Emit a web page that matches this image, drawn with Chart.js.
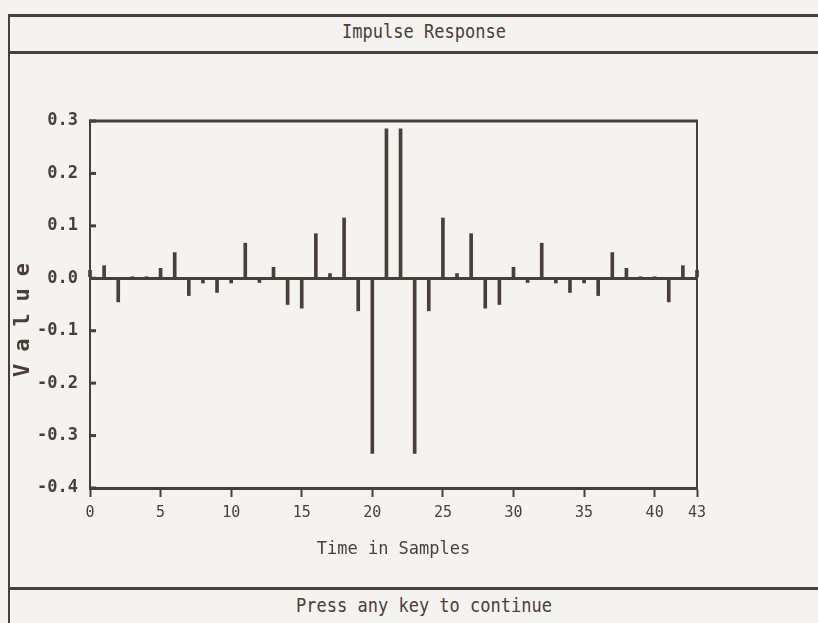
<!DOCTYPE html>
<html>
<head>
<meta charset="utf-8">
<script src="https://cdn.jsdelivr.net/npm/chart.js@4.4.1/dist/chart.umd.min.js"></script>
<style>
  html, body { margin: 0; padding: 0; background: #f4f3ef; }
  body { width: 818px; height: 623px; position: relative; overflow: hidden;
         font-family: "DejaVu Sans Mono", monospace; color: #4a3e39; }
  .hline { position: absolute; left: 9px; width: 820px; height: 3px; background: #4a3e39; }
  .vline { position: absolute; left: 8px; top: 14px; width: 2px; height: 620px; background: #4a3e39; }
  .label { position: absolute; left: 9px; width: 830px; text-align: center; font-size: 20px;
           transform: scaleX(0.85); transform-origin: 415px 0; }
  #chart { position: absolute; left: 0; top: 0; }
</style>
</head>
<body>
<div class="hline" style="top:14px"></div>
<div class="hline" style="top:51px"></div>
<div class="hline" style="top:587px"></div>
<div class="vline"></div>
<div class="label" style="top:19px">Impulse Response</div>
<div class="label" style="top:593px">Press any key to continue</div>
<canvas id="chart" width="818" height="623"></canvas>
<script>
// samples of the impulse response (symmetric FIR taps)
const samples = [0, 1, 2, 3, 4, 5, 6, 7, 8, 9, 10, 11, 12, 13, 14, 15, 16, 17, 18, 19, 20, 21,
                 22, 23, 24, 25, 26, 27, 28, 29, 30, 31, 32, 33, 34, 35, 36, 37, 38, 39, 40, 41, 42, 43];
const values = [0.015, 0.024, -0.045, 0.003, 0.003, 0.019, 0.049, -0.033, -0.009, -0.027, -0.009,
                0.067, -0.008, 0.021, -0.050, -0.057, 0.085, 0.009, 0.115, -0.062, -0.334, 0.285,
                0.285, -0.334, -0.062, 0.115, 0.009, 0.085, -0.057, -0.050, 0.021, -0.008, 0.067,
                -0.009, -0.027, -0.009, -0.033, 0.049, 0.019, 0.003, 0.003, -0.045, 0.024, 0.015];
const xTickValues = [0, 5, 10, 15, 20, 25, 30, 35, 40, 43];
const yTickValues = [-0.4, -0.3, -0.2, -0.1, 0.0, 0.1, 0.2, 0.3];

const ink = '#4a3e39';
const mono = '"DejaVu Sans Mono", monospace';

const framePlugin = {
    id: 'frame',
    afterDraw(chart) {
        const { ctx, chartArea: a, scales } = chart;
        ctx.save();
        ctx.strokeStyle = ink;
        // top and right edges of the plot box
        ctx.lineWidth = 3;
        ctx.beginPath();
        ctx.moveTo(a.left - 1, a.top);
        ctx.lineTo(a.right + 1, a.top);
        ctx.stroke();
        ctx.lineWidth = 2;
        ctx.beginPath();
        ctx.moveTo(a.right, a.top);
        ctx.lineTo(a.right, a.bottom);
        ctx.stroke();
        // y tick marks pointing inside
        ctx.lineWidth = 3;
        scales.y.ticks.forEach(t => {
            const py = scales.y.getPixelForValue(t.value);
            ctx.beginPath();
            ctx.moveTo(a.left - 1, py);
            ctx.lineTo(a.left + 6, py);
            ctx.stroke();
        });
        // rotated axis title
        ctx.fillStyle = ink;
        ctx.font = 'bold 22px ' + mono;
        ctx.letterSpacing = '12px';
        ctx.textAlign = 'center';
        ctx.textBaseline = 'middle';
        ctx.translate(23, 314);
        ctx.rotate(-Math.PI / 2);
        ctx.fillText('Value', 0, 0);
        ctx.restore();
    }
};

new Chart(document.getElementById('chart'), {
    type: 'bar',
    data: {
        datasets: [{
            label: 'Impulse Response',
            data: samples.map((s, i) => ({ x: s, y: values[i] })),
            backgroundColor: ink,
            barThickness: 3,
            clip: false
        }]
    },
    options: {
        responsive: false,
        animation: false,
        layout: { padding: { left: 0, top: 121, right: 121, bottom: 59 } },
        plugins: { legend: { display: false }, tooltip: { enabled: false } },
        scales: {
            x: {
                type: 'linear',
                min: 0,
                max: 43,
                offset: false,
                afterBuildTicks: scale => { scale.ticks = xTickValues.map(v => ({ value: v })); },
                afterFit: scale => { scale.height = 76; },
                grid: { offset: false, drawOnChartArea: false, tickLength: 9, tickWidth: 2, tickColor: ink },
                border: { color: ink, width: 3 },
                ticks: { color: ink, padding: 7, maxRotation: 0, autoSkip: false,
                         font: { family: mono, size: 15 } },
                title: { display: true, text: 'Time in Samples', color: ink,
                         font: { family: mono, size: 17 } }
            },
            y: {
                min: -0.4,
                max: 0.3,
                afterBuildTicks: scale => { scale.ticks = yTickValues.map(v => ({ value: v })); },
                afterFit: scale => { scale.width = 90; },
                grid: {
                    drawTicks: false,
                    lineWidth: 3,
                    color: c => (c.tick && Math.abs(c.tick.value) < 1e-9) ? ink : 'rgba(0,0,0,0)'
                },
                border: { color: ink, width: 2 },
                ticks: {
                    color: ink, padding: 12,
                    font: { family: mono, size: 17, weight: 'bold' },
                    callback: v => Number(v).toFixed(1)
                }
            }
        }
    },
    plugins: [framePlugin]
});
</script>
</body>
</html>
